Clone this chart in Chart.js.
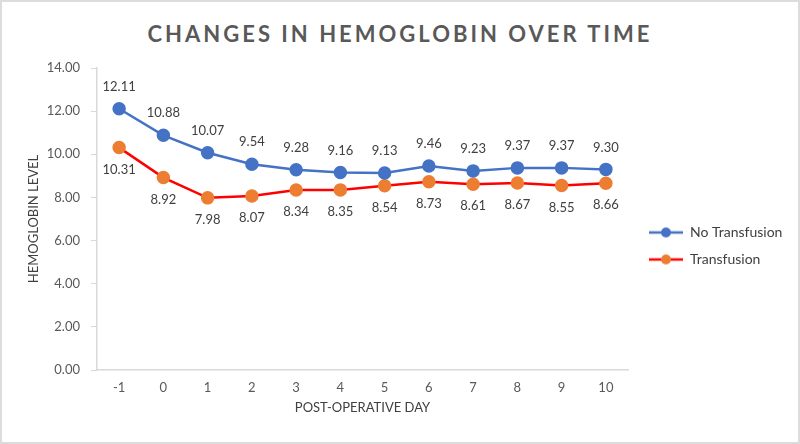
<!DOCTYPE html>
<html>
<head>
<meta charset="utf-8">
<script src="https://cdn.jsdelivr.net/npm/chart.js@4"></script>
<style>
  html, body { margin: 0; padding: 0; background: #fff; }
  #wrap {
    position: relative;
    width: 800px;
    height: 444px;
    box-sizing: border-box;
    border: 2px solid #dcdcdc;
    background: #fff;
  }
  #title {
    position: absolute;
    left: 0;
    right: 0;
    top: 18px;
    text-align: center;
    font-family: Lato, sans-serif;
    font-weight: bold;
    font-size: 22px;
    letter-spacing: 3px;
    color: #595959;
  }
  #chart { position: absolute; left: 0; top: 0; }
</style>
</head>
<body>
<div id="wrap">
  <div id="title">CHANGES IN HEMOGLOBIN OVER TIME</div>
  <canvas id="chart" width="796" height="440"></canvas>
</div>
<script>
// Chart data
const days = ['-1', '0', '1', '2', '3', '4', '5', '6', '7', '8', '9', '10'];
const noTransfusion = [12.11, 10.88, 10.07, 9.54, 9.28, 9.16, 9.13, 9.46, 9.23, 9.37, 9.37, 9.30];
const transfusion = [10.31, 8.92, 7.98, 8.07, 8.34, 8.35, 8.54, 8.73, 8.61, 8.67, 8.55, 8.66];
const yTicks = [0, 2, 4, 6, 8, 10, 12, 14];

const colors = {
    blue: '#4472C4',
    orange: '#ED7D31',
    red: '#FF0000',
    text: '#595959',
    axis: '#d9d9d9'
};

// legend marker: line with a dot in the middle
function legendMarker(lineColor, dotColor) {
    const c = document.createElement('canvas');
    c.width = 34;
    c.height = 12;
    const ctx = c.getContext('2d');
    ctx.strokeStyle = lineColor;
    ctx.lineWidth = 2.5;
    ctx.beginPath();
    ctx.moveTo(0, 6);
    ctx.lineTo(34, 6);
    ctx.stroke();
    ctx.fillStyle = dotColor;
    ctx.beginPath();
    ctx.arc(17, 6, 5, 0, Math.PI * 2);
    ctx.fill();
    return c;
}

// value labels above (blue) / below (orange) each point
const valueLabels = {
    id: 'valueLabels',
    afterDatasetsDraw(chart) {
        const ctx = chart.ctx;
        ctx.save();
        ctx.font = '13px Lato, sans-serif';
        ctx.fillStyle = '#404040';
        ctx.textAlign = 'center';
        ctx.textBaseline = 'middle';
        chart.data.datasets.forEach((ds, i) => {
            const meta = chart.getDatasetMeta(i);
            const offset = i === 0 ? -22 : 22;
            meta.data.forEach((pt, j) => {
                ctx.fillText(ds.data[j].toFixed(2), pt.x, pt.y + offset);
            });
        });
        ctx.restore();
    }
};

// keep the legend column a fixed width so the plot area ends where it should,
// then nudge the legend a bit to the right
const legendWidth = {
    id: 'legendWidth',
    afterInit(chart) {
        const legend = chart.legend;
        const fit = legend.fit;
        legend.fit = function () {
            fit.call(this);
            this.width = 166;
        };
    },
    afterLayout(chart) {
        chart.legend.left += 8;
        chart.legend.right += 8;
    }
};

const chart = new Chart(document.getElementById('chart').getContext('2d'), {
    type: 'line',
    data: {
        labels: days,
        datasets: [{
            label: 'No Transfusion',
            data: noTransfusion,
            borderColor: colors.blue,
            backgroundColor: colors.blue,
            pointBackgroundColor: colors.blue,
            pointBorderColor: colors.blue,
            borderWidth: 2.5,
            pointRadius: 5.5,
            tension: 0
        }, {
            label: 'Transfusion',
            data: transfusion,
            borderColor: colors.red,
            backgroundColor: colors.orange,
            pointBackgroundColor: colors.orange,
            pointBorderColor: colors.orange,
            borderWidth: 2.5,
            pointRadius: 5.5,
            tension: 0
        }]
    },
    options: {
        responsive: false,
        animation: false,
        layout: {
            padding: { top: 66, left: 20, right: 4, bottom: 18 }
        },
        plugins: {
            legend: {
                position: 'right',
                align: 'center',
                labels: {
                    usePointStyle: true,
                    pointStyleWidth: 34,
                    boxHeight: 12,
                    padding: 13,
                    color: '#404040',
                    font: { family: 'Lato, sans-serif', size: 14 },
                    generateLabels: chart => chart.data.datasets.map((ds, i) => ({
                        text: ds.label,
                        datasetIndex: i,
                        pointStyle: legendMarker(ds.borderColor, ds.pointBackgroundColor),
                        fillStyle: ds.pointBackgroundColor,
                        strokeStyle: ds.borderColor,
                        lineWidth: 0,
                        fontColor: '#404040'
                    }))
                }
            },
            tooltip: { enabled: false }
        },
        scales: {
            x: {
                offset: true,
                afterFit: axis => {
                    axis.height = 54;
                },
                grid: {
                    offset: false,
                    drawOnChartArea: false,
                    drawTicks: false,
                    color: colors.axis
                },
                border: { color: colors.axis, width: 1.5 },
                ticks: {
                    color: colors.text,
                    padding: 10,
                    font: { family: 'Lato, sans-serif', size: 13 }
                },
                title: {
                    display: true,
                    text: 'POST-OPERATIVE DAY',
                    color: '#404040',
                    padding: { top: 4, bottom: 8 },
                    font: { family: 'Lato, sans-serif', size: 13 }
                }
            },
            y: {
                min: 0,
                max: 14,
                afterBuildTicks: axis => {
                    axis.ticks = yTicks.map(v => ({ value: v }));
                },
                afterFit: axis => {
                    axis.width = 75;
                },
                grid: {
                    drawOnChartArea: false,
                    tickLength: 6,
                    color: colors.axis
                },
                border: { color: colors.axis, width: 1.5 },
                ticks: {
                    color: colors.text,
                    padding: 11,
                    font: { family: 'Lato, sans-serif', size: 13 },
                    callback: value => value.toFixed(2)
                },
                title: {
                    display: true,
                    text: 'HEMOGLOBIN LEVEL',
                    color: '#404040',
                    font: { family: 'Lato, sans-serif', size: 13 }
                }
            }
        }
    },
    plugins: [valueLabels, legendWidth]
});
</script>
</body>
</html>
